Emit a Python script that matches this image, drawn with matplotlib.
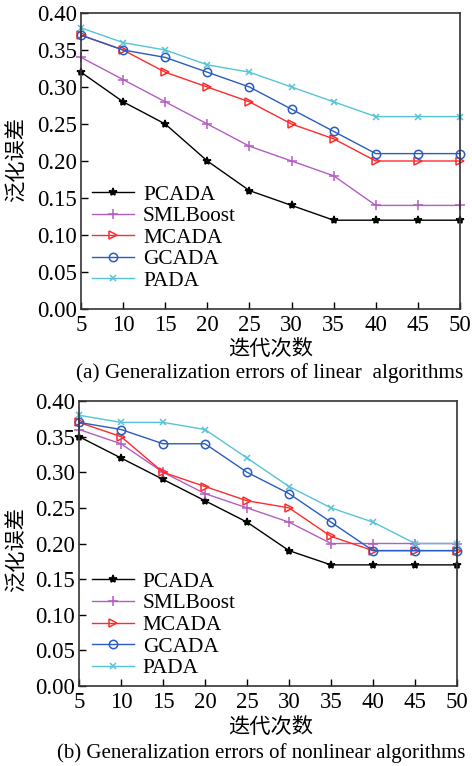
import matplotlib
import matplotlib.pyplot as plt
import numpy as np

plt.rcParams['font.family'] = ['Liberation Serif', 'Noto Sans CJK SC']
plt.rcParams['font.size'] = 15.3

iters = [5, 10, 15, 20, 25, 30, 35, 40, 45, 50]
names = ['PCADA', 'SMLBoost', 'MCADA', 'GCADA', 'PADA']

# (a) linear algorithms
lin_pcada = [0.32, 0.28, 0.25, 0.20, 0.16, 0.14, 0.12, 0.12, 0.12, 0.12]
lin_smlboost = [0.34, 0.31, 0.28, 0.25, 0.22, 0.20, 0.18, 0.14, 0.14, 0.14]
lin_mcada = [0.37, 0.35, 0.32, 0.30, 0.28, 0.25, 0.23, 0.20, 0.20, 0.20]
lin_gcada = [0.37, 0.35, 0.34, 0.32, 0.30, 0.27, 0.24, 0.21, 0.21, 0.21]
lin_pada = [0.38, 0.36, 0.35, 0.33, 0.32, 0.30, 0.28, 0.26, 0.26, 0.26]

# (b) nonlinear algorithms
nl_pcada = [0.35, 0.32, 0.29, 0.26, 0.23, 0.19, 0.17, 0.17, 0.17, 0.17]
nl_smlboost = [0.36, 0.34, 0.30, 0.27, 0.25, 0.23, 0.20, 0.20, 0.20, 0.20]
nl_mcada = [0.37, 0.35, 0.30, 0.28, 0.26, 0.25, 0.21, 0.19, 0.19, 0.19]
nl_gcada = [0.37, 0.36, 0.34, 0.34, 0.30, 0.27, 0.23, 0.19, 0.19, 0.19]
nl_pada = [0.38, 0.37, 0.37, 0.36, 0.32, 0.28, 0.25, 0.23, 0.20, 0.20]

colors = ['black', '#b45cc4', '#ff2a2a', '#2a5cc0', '#55c4d6']
markers = ['*', '+', '>', 'o', 'x']
msizes = [6, 6.5, 6, 6, 5]

W, H = 472, 766
fig = plt.figure(figsize=(W / 100, H / 100), dpi=100)


def draw(rect, series, leg_xy, xlab_y, cap_x, cap_y, cap_text, cap_ha, cap_fs,
         ylab_y):
    ax = fig.add_axes(rect)
    for s, n, c, m, ms in zip(series, names, colors, markers, msizes):
        ax.plot(iters, s, color=c, marker=m, markersize=ms, lw=1.0,
                markerfacecolor='none' if m in ('o', '>') else c,
                markeredgewidth=1.1, label=n, clip_on=False)
    ax.set_xlim(5, 50)
    ax.set_ylim(0, 0.40)
    ax.set_xticks(iters)
    ax.set_yticks(np.arange(0, 0.41, 0.05))
    ax.set_yticklabels(['%.2f' % v for v in np.arange(0, 0.41, 0.05)])
    ax.tick_params(direction='in', length=5, width=1, labelsize=16.5)
    ax.tick_params(axis='x', pad=4)
    ax.tick_params(axis='y', pad=3)
    for sp in ax.spines.values():
        sp.set_linewidth(1.2)
        sp.set_color('#333333')
    ax.legend(loc='upper left', bbox_to_anchor=leg_xy, frameon=False,
              borderpad=0, borderaxespad=0, labelspacing=0.08,
              handlelength=2.0, handletextpad=0.4)
    fig.text(271 / W, 1 - xlab_y / H, '迭代次数', ha='center', va='center')
    fig.text(cap_x / W, 1 - cap_y / H, cap_text, ha=cap_ha, va='center',
             fontsize=cap_fs)
    fig.text(18 / W, 1 - ylab_y / H, '泛化误差', rotation=90, ha='center',
             va='center')
    return ax


draw([81 / W, 1 - 309 / H, 379 / W, 296 / H],
     [lin_pcada, lin_smlboost, lin_mcada, lin_gcada, lin_pada],
     (0.029, 0.42), 350, 270, 373,
     '(a) Generalization errors of linear  algorithms', 'center', 15.3, 160)

draw([79 / W, 1 - 686 / H, 378 / W, 285 / H],
     [nl_pcada, nl_smlboost, nl_mcada, nl_gcada, nl_pada],
     (0.034, 0.40), 728, 57, 753,
     '(b) Generalization errors of nonlinear algorithms', 'left', 15.0, 550)

fig.savefig('out.png', dpi=100)
